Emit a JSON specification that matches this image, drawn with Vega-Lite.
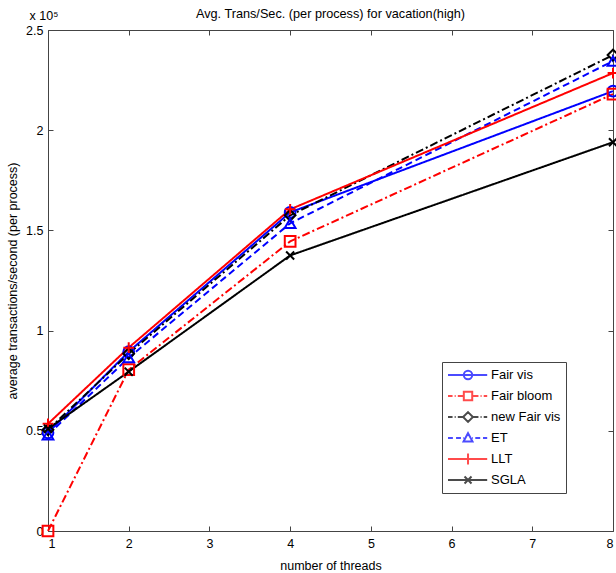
{
  "$schema": "https://vega.github.io/schema/vega-lite/v6.json",
  "width": 565,
  "height": 501,
  "autosize": {"type": "none"},
  "padding": {"left": 48, "top": 30, "right": 3, "bottom": 42},
  "background": "white",
  "title": {"text": "Avg. Trans/Sec. (per process) for vacation(high)", "fontSize": 12.7, "fontWeight": "normal", "font": "Liberation Sans", "offset": 10, "dy": 22, "color": "#000"},
  "config": {
    "view": {"stroke": "#444", "strokeWidth": 1},
    "font": "Liberation Sans",
    "axis": {"labelFont": "Liberation Sans", "labelFontSize": 12.5, "labelColor": "#000", "tickColor": "#444", "domain": false, "grid": false, "tickSize": -5, "titleFont": "Liberation Sans", "titleFontSize": 12.5, "titleFontWeight": "normal", "titleColor": "#000"},
    "legend": {"labelFont": "Liberation Sans", "labelFontSize": 13, "labelColor": "#000"}
  },
  "data": {"values": [
    {"series": "Fair vis", "threads": 1, "tps": 49000},
    {"series": "Fair vis", "threads": 2, "tps": 89500},
    {"series": "Fair vis", "threads": 4, "tps": 159000},
    {"series": "Fair vis", "threads": 8, "tps": 219500},
    {"series": "Fair bloom", "threads": 1, "tps": 0},
    {"series": "Fair bloom", "threads": 2, "tps": 80500},
    {"series": "Fair bloom", "threads": 4, "tps": 144500},
    {"series": "Fair bloom", "threads": 8, "tps": 218000},
    {"series": "new Fair vis", "threads": 1, "tps": 50500},
    {"series": "new Fair vis", "threads": 2, "tps": 88500},
    {"series": "new Fair vis", "threads": 4, "tps": 157500},
    {"series": "new Fair vis", "threads": 8, "tps": 237500},
    {"series": "ET", "threads": 1, "tps": 48000},
    {"series": "ET", "threads": 2, "tps": 86500},
    {"series": "ET", "threads": 4, "tps": 153500},
    {"series": "ET", "threads": 8, "tps": 234500},
    {"series": "LLT", "threads": 1, "tps": 53500},
    {"series": "LLT", "threads": 2, "tps": 91500},
    {"series": "LLT", "threads": 4, "tps": 160500},
    {"series": "LLT", "threads": 8, "tps": 228500},
    {"series": "SGLA", "threads": 1, "tps": 51000},
    {"series": "SGLA", "threads": 2, "tps": 79500},
    {"series": "SGLA", "threads": 4, "tps": 137500},
    {"series": "SGLA", "threads": 8, "tps": 194000}
  ]},
  "layer": [
    {
      "mark": {"type": "line", "strokeWidth": 2},
      "encoding": {
        "x": {"field": "threads", "type": "quantitative", "scale": {"domain": [1, 8], "nice": false, "zero": false},
              "axis": {"orient": "bottom", "values": [1, 2, 3, 4, 5, 6, 7, 8], "title": "number of threads", "labelPadding": 11, "titleY": 28, "titleBaseline": "top"}},
        "y": {"field": "tps", "type": "quantitative", "scale": {"domain": [0, 250000], "nice": false, "zero": false},
              "axis": {"orient": "left", "values": [0, 50000, 100000, 150000, 200000, 250000], "labelExpr": "format(datum.value/100000, '~g')", "labelPadding": 10, "title": "average transactions/second (per process)", "titleX": -36, "titleY": 250.5, "titleAngle": -90, "titleAlign": "center", "titleBaseline": "middle"}},
        "color": {"field": "series", "type": "nominal", "legend": null,
                  "scale": {"domain": ["Fair vis", "Fair bloom", "new Fair vis", "ET", "LLT", "SGLA"], "range": ["#0000ff", "#ff0000", "#000000", "#0000ff", "#ff0000", "#000000"]}},
        "strokeDash": {"field": "series", "type": "nominal", "legend": null,
                  "scale": {"domain": ["Fair vis", "Fair bloom", "new Fair vis", "ET", "LLT", "SGLA"], "range": [[1, 0], [8, 3, 2, 3], [8, 3, 2, 3], [7, 4], [1, 0], [1, 0]]}}
      }
    },
    {
      "mark": {"type": "point", "filled": false, "strokeWidth": 2, "size": 115, "opacity": 1},
      "encoding": {
        "x": {"field": "threads", "type": "quantitative",
              "axis": {"orient": "top", "values": [1, 2, 3, 4, 5, 6, 7, 8], "labels": false, "title": "x 10⁵", "titleX": -19, "titleY": -11, "titleAlign": "left", "titleBaseline": "alphabetic", "titleAngle": 0}},
        "y": {"field": "tps", "type": "quantitative",
              "axis": {"orient": "right", "values": [0, 50000, 100000, 150000, 200000, 250000], "labels": false, "title": null}},
        "color": {"field": "series", "type": "nominal", "legend": null,
                  "scale": {"domain": ["Fair vis", "Fair bloom", "new Fair vis", "ET", "LLT", "SGLA"], "range": ["#0000ff", "#ff0000", "#000000", "#0000ff", "#ff0000", "#000000"]}},
        "shape": {"field": "series", "type": "nominal", "legend": null,
                  "scale": {"domain": ["Fair vis", "Fair bloom", "new Fair vis", "ET", "LLT", "SGLA"], "range": ["circle", "square", "diamond", "triangle-up", "M-1,0H1M0,-1V1", "M-0.75,-0.75L0.75,0.75M-0.75,0.75L0.75,-0.75"]}}
      }
    },
    {
      "transform": [{"filter": "false"}],
      "mark": {"type": "point", "filled": false, "strokeWidth": 2},
      "encoding": {
        "x": {"field": "threads", "type": "quantitative", "axis": null},
        "y": {"field": "tps", "type": "quantitative", "axis": null},
        "color": {"field": "series", "type": "nominal",
                  "scale": {"domain": ["Fair vis", "Fair bloom", "new Fair vis", "ET", "LLT", "SGLA"], "range": ["#0000ff", "#ff0000", "#000000", "#0000ff", "#ff0000", "#000000"]},
                  "legend": {"orient": "none", "legendX": 394, "legendY": 332, "title": null, "symbolSize": 196, "symbolStrokeWidth": 2, "labelOffset": 28, "padding": 5, "rowPadding": 3, "strokeColor": "#444", "fillColor": "white", "symbolFillColor": "transparent", "labelFontSize": 13}},
        "shape": {"field": "series", "type": "nominal",
                  "scale": {"domain": ["Fair vis", "Fair bloom", "new Fair vis", "ET", "LLT", "SGLA"], "range": [
                    "M-1,0H4.6M2.46,0A0.6,0.6 0 1,1 1.26,0A0.6,0.6 0 1,1 2.46,0",
                    "M-1,0H-0.35M-0.05,0H0.1M0.4,0H1.26M2.46,0H3.35M3.65,0H3.8M4.1,0H4.6M1.26,-0.6H2.46V0.6H1.26Z",
                    "M-1,0H-0.35M-0.05,0H0.1M0.4,0H1.16M2.56,0H3.35M3.65,0H3.8M4.1,0H4.6M1.86,-0.7L2.56,0L1.86,0.7L1.16,0Z",
                    "M-1,0H-0.3M0.15,0H0.85M1.2,0H1.3M2.45,0H2.55M2.9,0H3.6M4.0,0H4.6M1.86,-0.7L2.5,0.5H1.22Z",
                    "M-1,0H4.6M1.86,-0.8V0.8",
                    "M-1,0H4.6M1.36,-0.5L2.36,0.5M1.36,0.5L2.36,-0.5"
                  ]},
                  "legend": {"orient": "none", "legendX": 394, "legendY": 332, "title": null, "symbolSize": 196, "symbolStrokeWidth": 2, "labelOffset": 28, "padding": 5, "rowPadding": 3, "strokeColor": "#444", "fillColor": "white", "symbolFillColor": "transparent", "labelFontSize": 13}}
      }
    }
  ],
  "resolve": {
    "scale": {"color": "independent", "shape": "independent", "strokeDash": "independent"},
    "axis": {"x": "independent", "y": "independent"}
  }
}
